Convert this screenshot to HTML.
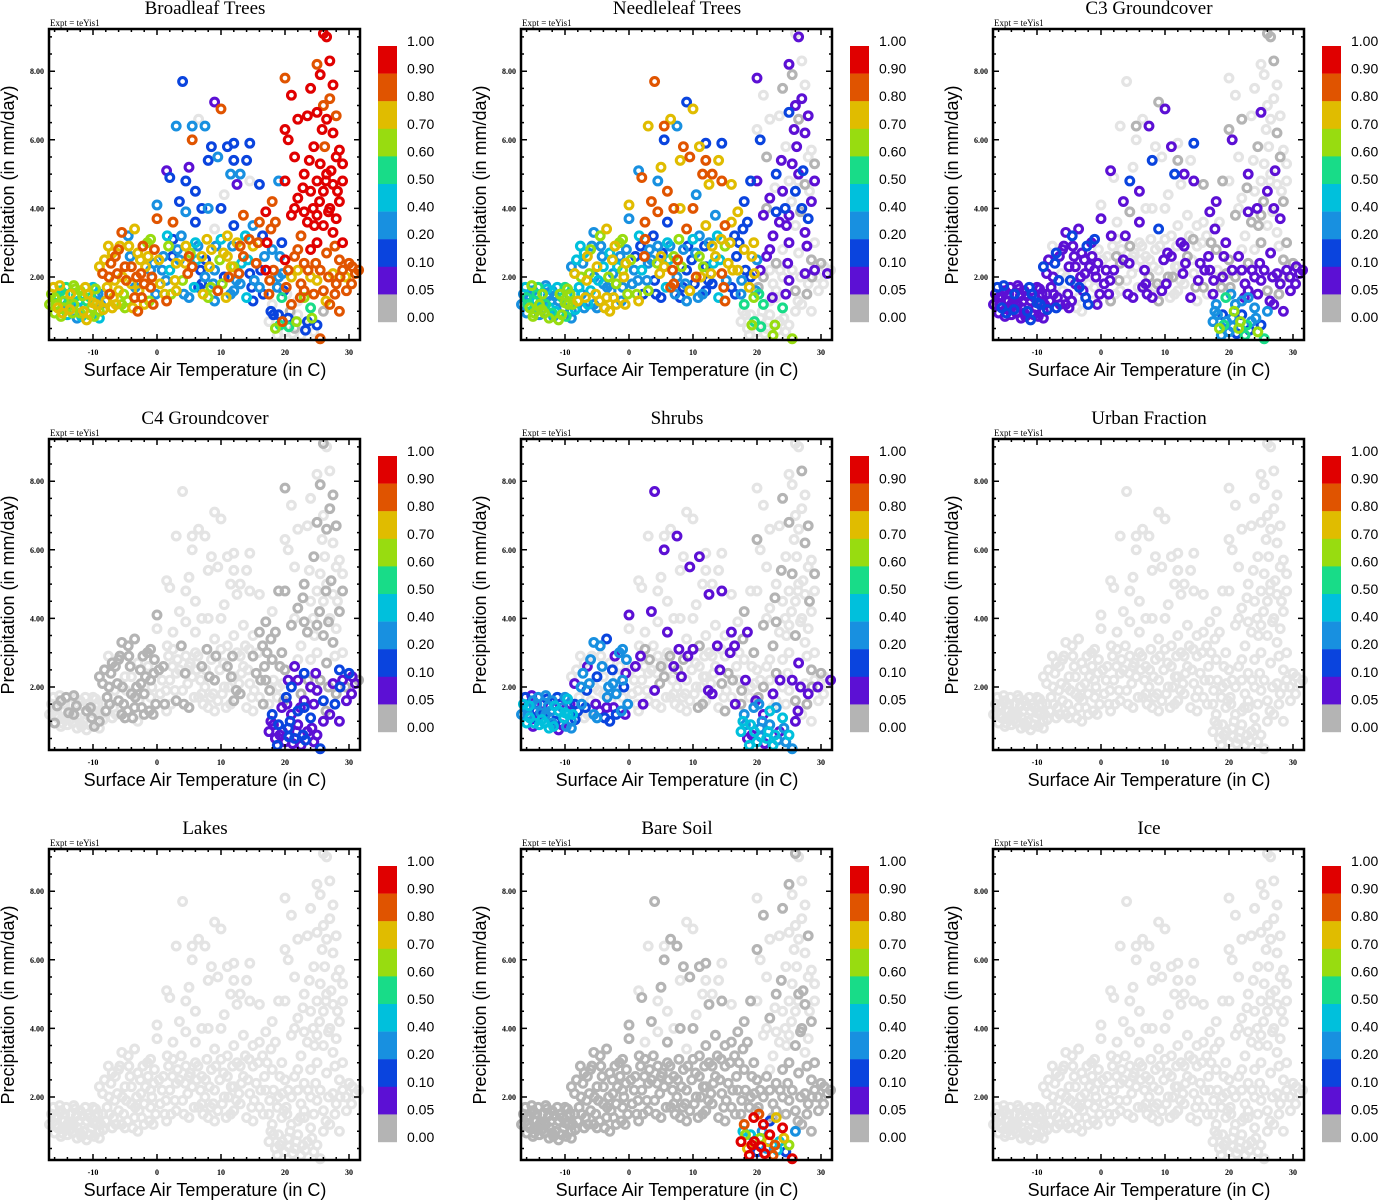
<!DOCTYPE html>
<html><head><meta charset="utf-8"><style>
html,body{margin:0;padding:0;background:#fff;}
svg{display:block;}
.serif{font-family:"Liberation Serif",serif;}
.sans{font-family:"Liberation Sans",sans-serif;}
</style></head><body>
<svg id="fig" width="1378" height="1200" viewBox="0 0 1378 1200" xmlns="http://www.w3.org/2000/svg"></svg>
<script>
const titles=["Broadleaf Trees","Needleleaf Trees","C3 Groundcover","C4 Groundcover","Shrubs","Urban Fraction","Lakes","Bare Soil","Ice"];
const xTicks=[-10,0,10,20,30];
const yTicks=[2,4,6,8];
const yTickLabels=["2.00","4.00","6.00","8.00"];
const cbLabels=["1.00","0.90","0.80","0.70","0.60","0.50","0.40","0.20","0.10","0.05","0.00"];
const binEdges=[0.05,0.1,0.2,0.4,0.5,0.6,0.7,0.8,0.9];
const binColors=["#b4b4b4","#5c10d4","#0a44de","#1890e0","#00c0dc","#18dc88","#98dc10","#e0bc00","#e05400","#e00000"];
// shared cloud, grouped by region: [temperature C, precip mm/day]
const regA=[[-16,1.4],[-15.5,1.1],[-15,1.6],[-14.5,1.3],[-14,0.9],[-13.5,1.5],[-13,1.2],[-12.5,0.8],[-12,1.6],[-11.5,1.0],[-11,1.3],[-10.5,0.9],[-10,1.7],[-9.5,1.2],[-9,1.0],[-8.5,1.5],[-16.5,1.5],[-15.2,1.75],[-14.2,1.7],[-13.2,0.95],[-12.2,1.3],[-11.2,1.7],[-10.2,1.1],[-9.2,1.5],[-15.8,1.2],[-14.8,0.95],[-13.8,1.25],[-12.8,1.65],[-11.8,0.85],[-10.8,1.5],[-9.8,0.85],[-8.8,1.2],
 [-16.8,1.2],[-16.2,1.7],[-15.6,1.45],[-15,0.85],[-14.4,1.5],[-13.6,1.05],[-13,1.75],[-12.4,1.1],[-11.6,1.45],[-11,0.75],[-10.4,1.4],[-9.6,1.65],[-9,0.8],[-8.4,1.05],[-16,0.95],[-14,1.2],[-12,0.95],[-10,1.25],[-12.6,1.45],[-14.6,1.1]];
const regB=[[-8,1.3],[-7.5,2.0],[-7,1.1],[-6.5,2.6],[-6,1.6],[-5.5,1.2],[-5,2.3],[-4.5,3.2],[-4,1.8],[-3.5,1.4],[-3,2.7],[-2.5,2.1],[-2,1.2],[-1.5,3.0],[-1,1.7],[-0.5,2.4],[-7.8,1.7],[-7.2,2.4],[-6.8,1.4],[-6.2,2.1],[-5.8,2.9],[-5.2,1.5],[-4.8,1.9],[-4.2,2.6],[-3.8,1.1],[-3.2,2.0],[-2.8,1.6],[-2.2,2.9],[-1.8,2.3],[-1.2,1.3],[-0.8,2.0],[-0.2,1.5],[-9,2.3],[-8.5,2.1],[-7.6,2.9],[-5.5,3.3],[-3.5,3.4],[-1,3.1],[0,3.7],[0,4.1],
 [-8.2,2.5],[-7.4,1.5],[-6.6,1.9],[-6,2.8],[-5.4,2.0],[-4.6,1.3],[-4,2.3],[-3.4,1.7],[-2.6,2.5],[-2,1.8],[-1.4,2.6],[-0.6,1.2],[-7,2.7],[-5,1.1],[-3,1.0],[-1,2.2],[-4.4,2.9],[-2.4,1.4],[-6.4,1.2],[-0.4,2.8]];
const regC=[[0.5,1.8],[1,2.6],[1.5,1.3],[2,2.2],[2.5,3.1],[3,1.6],[3.5,2.5],[4,1.9],[4.5,2.9],[5,1.4],[5.5,2.3],[6,3.0],[6.5,1.7],[7,2.6],[7.5,2.0],[8,1.4],[8.5,2.8],[9,2.2],[9.5,1.6],[10,3.1],[10.5,2.0],[11,2.6],[11.5,1.5],[12,2.3],[12.5,3.0],[13,1.8],[13.5,2.6],[14,1.4],[14.5,2.1],[15,2.9],[0.8,2.2],[1.8,2.9],[2.8,1.9],[3.8,3.2],[4.8,2.1],[5.8,1.7],[6.8,2.2],[7.8,3.1],[8.8,1.8],[9.8,2.5],[10.8,1.4],[11.8,2.9],[12.8,2.1],[13.8,3.2],[14.8,1.7],[1.2,1.5],[3.2,2.8],[5.2,2.7],[7.2,1.5],[9.2,2.9],[11.2,2.0],[13.2,2.4],[15,1.3],
 [0.3,2.5],[1.4,1.9],[2.2,1.5],[3,2.4],[4.2,1.5],[5,2.6],[6.2,2.5],[7,1.8],[8.2,2.3],[9,1.3],[10.2,1.8],[11,3.2],[12,1.6],[13,2.9],[14.2,2.5],[2.4,2.6],[4.4,2.4],[6.4,2.9],[8.4,1.7],[10.4,2.7],[12.4,1.9],[14.4,3.1],[1.6,3.2],[7.6,2.5],[11.6,2.3]];
const regCup=[[2,4.9],[3,6.4],[3.5,4.2],[4.5,4.8],[5,5.2],[5.5,6.4],[5.5,6.0],[6,4.5],[6.5,6.6],[7,4.0],[7.5,6.4],[8,5.4],[8.5,5.8],[9,7.1],[9.5,5.5],[10,6.9],[10,4.0],[10.5,4.4],[11,5.8],[11.5,5.0],[12,5.9],[12,5.4],[12.5,4.7],[13,5.0],[13.5,3.8],[14,5.4],[14.5,4.8],[14.5,5.9],[15,3.5],[16,4.7],[4,7.7],[1.5,5.1],[8,4.0],[2.5,3.6],[6,3.6],[9,3.4],[12,3.5],[4.5,3.9]];
const regD=[[15.5,2.4],[16,1.7],[16.5,3.2],[17,2.2],[17.5,1.5],[18,2.8],[18.5,3.6],[19,2.0],[19.5,3.0],[20,2.5],[15.8,3.0],[16.8,2.6],[17.8,3.4],[18.8,1.7],[19.8,1.6],[17,3.9],[18,4.2],[19,4.8],[16,3.6],
 [15.2,1.9],[16.2,2.2],[17.2,3.0],[18.2,2.2],[19.2,2.6],[17.6,1.9],[19.6,2.1],[16.6,1.5]];
const regE=[[17.5,0.7],[18,1.2],[18.5,0.5],[19,0.9],[19.5,1.4],[20,0.4],[20.5,0.8],[21,1.2],[21.5,0.5],[22,0.9],[22.5,0.3],[23,1.4],[23.5,0.7],[24,1.1],[24.5,0.4],[25,0.6],[25.5,0.2],[26,1.0],[18.8,0.3],[20.3,1.5],[21.8,0.7],[23.2,0.45],[19.2,0.6],[22,1.3],
 [18.2,0.9],[19.6,0.7],[20.8,1.0],[21.2,0.35],[22.8,0.6],[24.2,0.8],[17.8,1.0],[20.6,0.55]];
const regFlow=[[21.5,2.6],[22.5,1.8],[23,2.4],[24,2.0],[24.5,1.5],[25.5,2.2],[26,1.6],[27,1.2],[27.5,2.1],[28,1.8],[28.5,2.5],[28.5,1.0],[29,2.2],[29.5,2.0],[30,2.4],[30.5,2.3],[31,2.1],[31.5,2.2],[21,2.0],[23,1.6],[20.5,2.2],[26.5,2.7],
 [20.2,1.7],[22,2.2],[24.8,2.4],[26.8,2.0],[27.8,1.5],[29.6,1.6],[25,1.9],[23.6,2.2],[28.6,2.0],[30.4,1.8],[22.4,1.4],[26.4,1.3]];
const regFhigh=[[20,4.8],[20,6.3],[20,7.8],[20.5,6.0],[21,7.3],[21,3.8],[21.5,5.5],[22,4.3],[22,6.6],[22.5,3.2],[23,5.0],[23.5,6.7],[23.5,3.6],[24,7.5],[24,4.5],[24.5,5.8],[25,8.2],[25,6.8],[25,4.8],[25,3.0],[25.5,7.9],[25.5,5.3],[26,9.1],[26,7.0],[26,4.5],[26,3.5],[26.5,9.0],[26.5,6.6],[26.5,5.0],[27,8.3],[27,7.2],[27,4.0],[27.5,7.6],[27.5,6.2],[27.5,4.7],[27.5,3.3],[28,5.5],[28,6.7],[28,3.7],[28.5,5.7],[28.5,4.2],[29,5.3],[29,4.8],[29,3.0],[22,2.8],[23,3.9],[24,2.8],[25,3.8],[21.5,4.0],
 [23.8,5.4],[25.4,4.2],[26.2,5.8],[27.2,5.1],[28.2,4.5],[24.6,3.5],[26.8,3.9],[25.8,6.3],[22.8,4.6],[27.8,2.9],[24.4,4.0],[26.4,4.8]];
const regions=[regA,regB,regC,regCup,regD,regE,regFlow,regFhigh];
// per-panel fraction patterns per region (null = light grey), order A,B,C,Cup,D,E,Flow,Fhigh
const fracBroadleaf=[[0.6,0.7,0.55,0.65,0.45,0.7,0.6,0.3],[0.7,0.8,0.75,0.85,0.7,0.65,0.8,0.3],[0.7,0.3,0.8,0.45,0.15,0.75,0.3,0.6],[0.15,0.3,0.1,0.15,0.05,0.3,0.85,0.1,null],[0.85,0.3,0.15,0.95,0.85,0.3],[null,null,0.65,0.15,0.5,null,0.1,0.8,0.0],[0.85,0.8,0.85,0.7,0.85],[0.95,0.95,0.85,0.95,0.95,0.95,0.95]];
const fracNeedleleaf=[[0.5,0.6,0.3,0.45,0.2,0.65],[0.7,0.6,0.3,0.75,0.45,0.2],[0.3,0.15,0.7,0.45,0.8,0.6,0.3,0.15],[0.8,0.75,0.85,0.3,0.7,0.8,0.15],[0.7,0.15,0.1,0.75,0.3],[null,0.5,null,null,0.6,null],[0.05,null,0.0,null],[0.05,null,0.05,0.1,null,0.05,0.0]];
const fracC3=[[0.05,0.1,0.05,0.05],[0.05,0.05,0.1,0.05,null],[0.05,null,0.0,0.05,null,null],[null,null,0.05,0.1,null,0.0,null,0.05],[0.05,0.0,null,0.05],[0.3,0.2,0.6,0.1,0.5,0.2],[0.05,0.05,0.0,0.05],[null,0.0,null,0.05,null,0.0,null]];
const fracC4=[[null,null,0.0,null],[0.0,0.0,null,0.0],[null,0.0,null,null],[null],[0.0,null,0.0],[0.05,0.1,0.05,0.1,0.05],[0.05,0.0,0.1,0.05],[0.0,null,0.0,null,null]];
const fracShrubs=[[0.3,0.4,0.2,0.1,0.45,0.05],[0.1,0.2,null,0.05,null,0.3],[null,0.05,null,null,0.0,null],[null,null,0.05,null,null,null,0.05,null],[0.0,null,0.05,null],[0.45,0.3,0.05,0.4,0.2],[null,0.05,0.0,null],[null,0.0,null,null]];
const fracNone=[[null],[null],[null],[null],[null],[null],[null],[null]];
const fracBare=[[0.0],[0.0],[0.0],[0.0,null],[0.0],[0.9,0.85,0.7,0.4,0.95,0.1,0.6,0.9,0.2],[0.0],[null,0.0,null]];
const panelFracs=[fracBroadleaf,fracNeedleleaf,fracC3,fracC4,fracShrubs,fracNone,fracNone,fracBare,fracNone];

const NS="http://www.w3.org/2000/svg";
const svg=document.getElementById('fig');
function mk(tag,attrs,parent){const e=document.createElementNS(NS,tag);for(const k in attrs)e.setAttribute(k,attrs[k]);(parent||svg).appendChild(e);return e;}
function colorOf(f){let i=0;while(i<binEdges.length&&f>=binEdges[i])i++;return binColors[i];}

for(let pi=0;pi<9;pi++){
  const ox=472*(pi%3), oy=410*Math.floor(pi/3);
  const xS=t=>ox+157+6.4*t;
  const yS=p=>oy+277-34.3*(p-2);
  const g=mk('g',{});
  
  
  const tt=mk('text',{x:ox+205,y:oy+14,'text-anchor':'middle','font-size':'19',class:'serif'},g);
  tt.textContent=titles[pi];
  
  
  const ex=mk('text',{x:ox+50,y:oy+26,'font-size':'9',class:'serif'},g);
  ex.textContent="Expt = teYis1";
  
  
  const pts=mk('g',{fill:'none','stroke-width':'3.1'},g);
  
  
  const colored=[];
  regions.forEach((reg,ri)=>{
    const pat=panelFracs[pi][ri];
    reg.forEach((pt,k)=>{
      const f=pat[k%pat.length];
      if(f===null){
        const c=mk('circle',{cx:xS(pt[0]),cy:yS(pt[1]),r:3.9,stroke:'#e4e4e4'},pts);
        
        
      } else colored.push([pt[0],pt[1],f]);
    });
  });
  colored.sort((a,b)=>a[2]-b[2]);
  colored.forEach(d=>{
    const c=mk('circle',{cx:xS(d[0]),cy:yS(d[1]),r:3.9,stroke:colorOf(d[2])},pts);
    
    
  });
  const x0=ox+49,x1=ox+360,y0=oy+29,y1=oy+340;
  const fr=mk('rect',{x:x0,y:y0,width:x1-x0,height:y1-y0,fill:'none',stroke:'#000','stroke-width':'2.5'},g);
  
  
  let d='';
  for(let t=-16;t<=31;t+=2){const x=xS(t);const L=(t%10===0)?6:3;d+=`M${x},${y1}v${-L}M${x},${y0}v${L}`;}
  for(let p=0.5;p<=9;p+=0.5){const y=yS(p);const L=(p%2===0)?6:3;d+=`M${x0},${y}h${L}M${x1},${y}h${-L}`;}
  const tk=mk('path',{d:d,stroke:'#000','stroke-width':'1.5'},g);
  
  
  xTicks.forEach(t=>{const e=mk('text',{x:xS(t),y:oy+355,'text-anchor':'middle','font-size':'8','font-weight':'bold',class:'serif'},g);e.textContent=String(t);
    
    });
  yTicks.forEach((p,i)=>{const e=mk('text',{x:ox+44,y:yS(p)+3,'text-anchor':'end','font-size':'8','font-weight':'bold',class:'serif'},g);e.textContent=yTickLabels[i];
    
    });
  const xt=mk('text',{x:ox+205,y:oy+376,'text-anchor':'middle','font-size':'18',class:'sans'},g);
  xt.textContent="Surface Air Temperature (in C)";
  
  
  const yt=mk('text',{x:0,y:0,'text-anchor':'middle','font-size':'18',class:'sans',transform:`translate(${ox+14},${oy+185}) rotate(-90)`},g);
  yt.textContent="Precipitation (in mm/day)";
  
  
  const cb=mk('g',{},g);
  
  
  for(let i=0;i<10;i++){
    const r=mk('rect',{x:ox+378,y:oy+46+27.6*i,width:19,height:27.8,fill:binColors[9-i]},cb);
    
    
  }
  cbLabels.forEach((l,i)=>{const e=mk('text',{x:ox+407,y:oy+46+27.6*i,'font-size':'14',class:'sans'},cb);e.textContent=l;
    
    });
}
</script>
</body></html>
